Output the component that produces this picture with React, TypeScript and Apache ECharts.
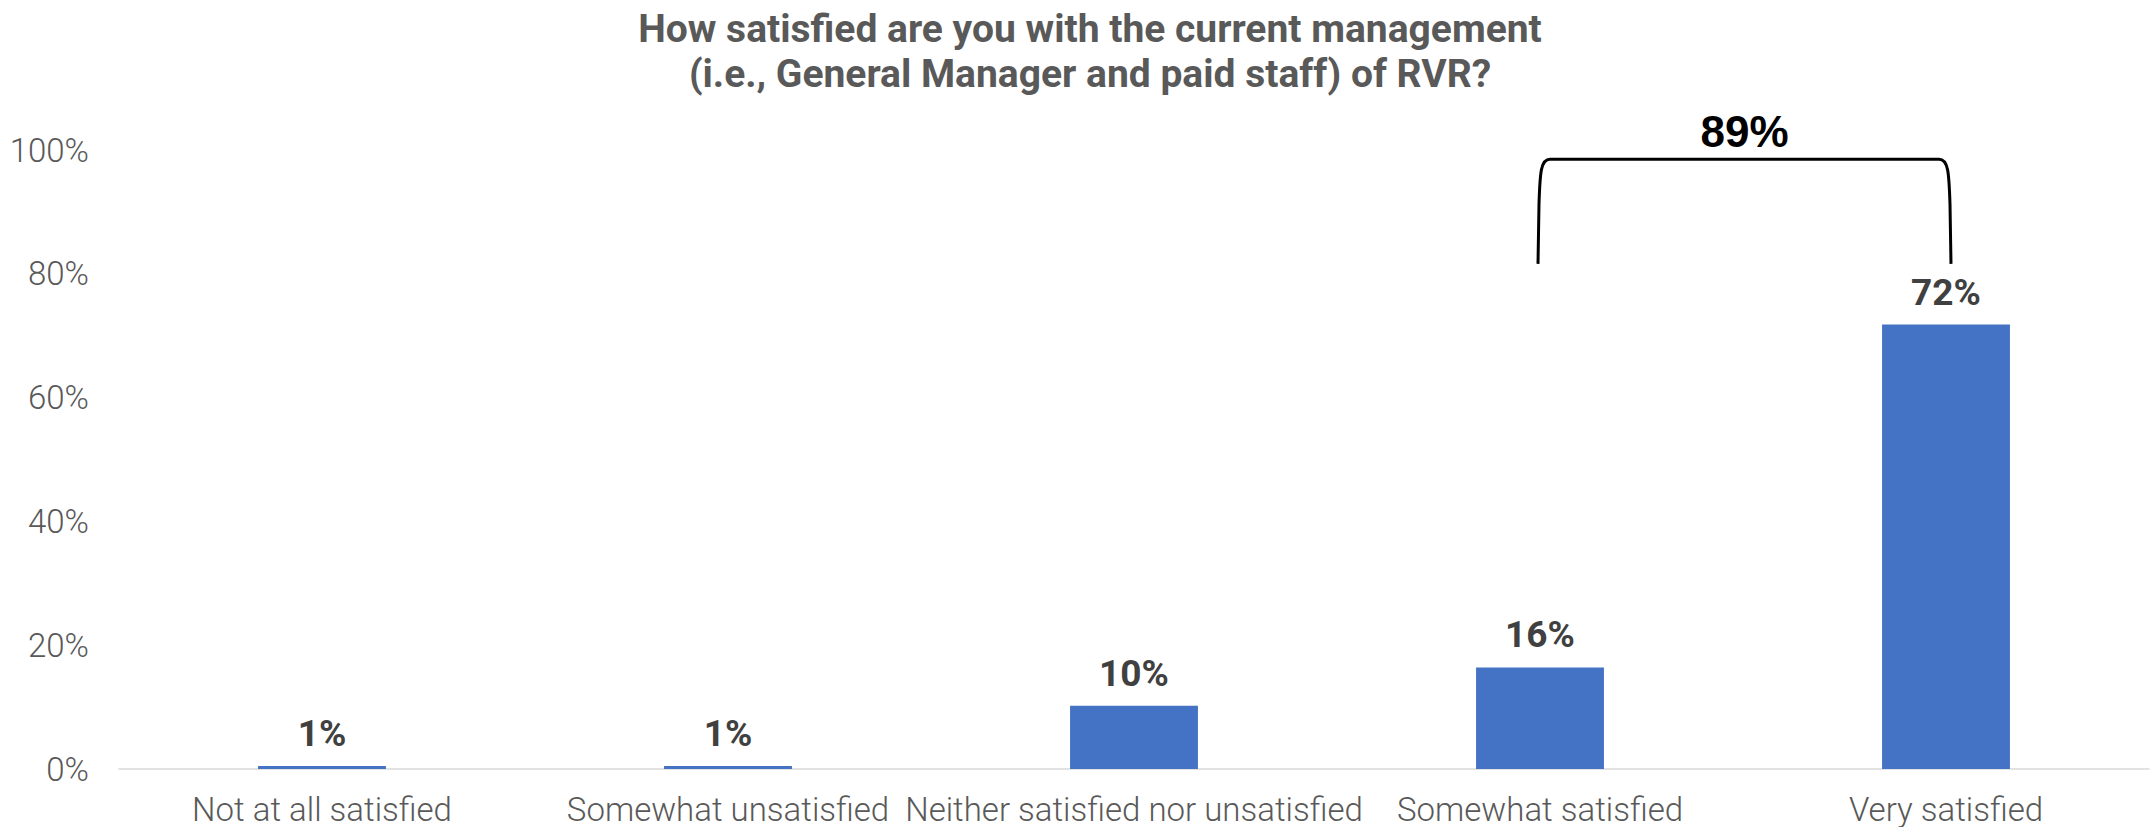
import React, { useEffect, useRef } from "react";
import * as echarts from "echarts";

const categories = [
  "Not at all satisfied",
  "Somewhat unsatisfied",
  "Neither satisfied nor unsatisfied",
  "Somewhat satisfied",
  "Very satisfied",
];
const values = [0.5, 0.5, 10.2, 16.4, 71.8];
const titleLines = [
  "How satisfied are you with the current management",
  "(i.e., General Manager and paid staff) of RVR?",
];
const yMin = 0;
const yMax = 100;
const yInterval = 20;
const bracketLabel = "89%";
const bracketCats = [3, 4];
const bracketLevels = [81.6, 98.5];

export default function App() {
  const ref = useRef<HTMLDivElement>(null);
  useEffect(() => {
    if (!ref.current) return;
    const chart = echarts.init(ref.current, null, { renderer: "svg" });
    const option: any = {
      animation: false,
      backgroundColor: "#ffffff",
      title: {
        text: titleLines.join("\n"),
        left: 1085,
        top: 1,
        textAlign: "center",
        textStyle: {
          fontFamily: "Roboto",
          fontWeight: "bold",
          fontSize: 39,
          lineHeight: 45,
          color: "#595959",
        },
      },
      grid: { left: 119, right: 7, top: 150, bottom: 58, containLabel: false },
      xAxis: {
        type: "category",
        data: categories,
        axisLine: { show: true, lineStyle: { color: "#d9d9d9", width: 1.5 } },
        axisTick: { show: false },
        axisLabel: {
          interval: 0,
          hideOverlap: false,
          margin: 25,
          lineHeight: 30,
          fontFamily: "Roboto",
          fontWeight: 300,
          fontSize: 33,
          color: "#595959",
        },
      },
      yAxis: {
        type: "value",
        min: yMin,
        max: yMax,
        interval: yInterval,
        splitLine: { show: false },
        axisLine: { show: false },
        axisTick: { show: false },
        axisLabel: {
          formatter: "{value}%",
          margin: 30,
          fontFamily: "Roboto",
          fontWeight: 300,
          fontSize: 33,
          color: "#595959",
        },
      },
      series: [
        {
          type: "bar",
          data: values,
          barWidth: "31.5%",
          itemStyle: { color: "#4472C4" },
          label: {
            show: true,
            position: "top",
            distance: 14,
            formatter: (p: any) => Math.round(p.value) + "%",
            fontFamily: "Roboto",
            fontWeight: "bold",
            fontSize: 37,
            color: "#404040",
          },
        },
      ],
    };
    chart.setOption(option);

    const pLb = chart.convertToPixel({ gridIndex: 0 }, [bracketCats[0], bracketLevels[0]]) as number[];
    const pLt = chart.convertToPixel({ gridIndex: 0 }, [bracketCats[0], bracketLevels[1]]) as number[];
    const pRb = chart.convertToPixel({ gridIndex: 0 }, [bracketCats[1], bracketLevels[0]]) as number[];
    const xL = pLb[0] - 2;
    const xR = pRb[0] + 5;
    const yB = pLb[1];
    const yT = pLt[1];
    const d =
      `M${xL},${yB} L${xL + 1},${yT + 45} C${xL + 2},${yT + 12} ${xL + 3},${yT} ${xL + 12},${yT} ` +
      `L${xR - 12},${yT} C${xR - 3},${yT} ${xR - 2},${yT + 12} ${xR - 1},${yT + 45} L${xR},${yB}`;
    echarts.graphic.registerShape("bracket", echarts.graphic.extendPath(d, {}) as any);
    chart.setOption({
      graphic: [
        {
          type: "bracket",
          x: 0,
          y: 0,
          scaleX: 1,
          scaleY: 1,
          style: { stroke: "#000000", lineWidth: 3, fill: "none" },
        },
        {
          type: "text",
          x: (xL + xR) / 2,
          y: yT - 27.5,
          style: {
            text: bracketLabel,
            fontFamily: "Liberation Sans",
            fontWeight: "bold",
            fontSize: 44,
            fill: "#000000",
            textAlign: "center",
            textVerticalAlign: "middle",
          },
        },
      ],
    });
    return () => chart.dispose();
  }, []);
  return (
    <div
      ref={ref}
      style={{ position: "absolute", left: 0, top: 0, width: 2156, height: 827 }}
    />
  );
}
